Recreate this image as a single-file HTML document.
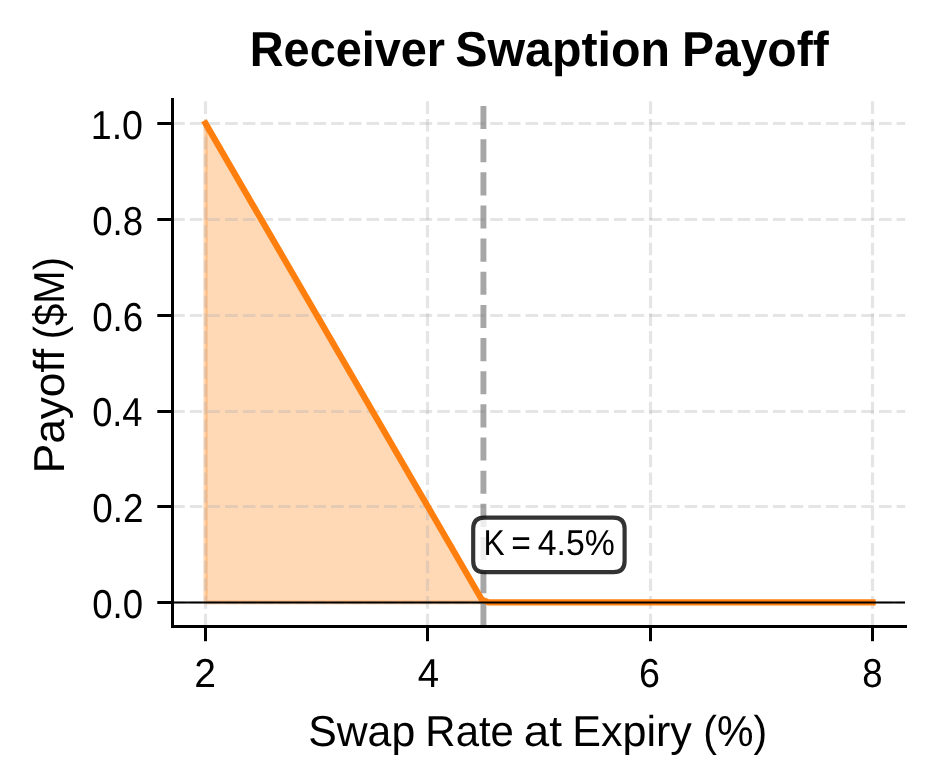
<!DOCTYPE html>
<html><head><meta charset="utf-8"><style>
html,body{margin:0;padding:0;background:#fff;}
svg{display:block;will-change:transform;}
text{font-family:"Liberation Sans", sans-serif;text-rendering:geometricPrecision;}
</style></head><body>
<svg width="934" height="784" viewBox="0 0 934 784">
<rect width="934" height="784" fill="#fff"/>
<path d="M 205.50 602.40 L 205.50 123.40 L 481.74 599.50 L 488.48 602.40 L 872.52 602.40 Z" fill="#ff7f0e" fill-opacity="0.3" stroke="#ff7f0e" stroke-opacity="0.3" stroke-width="4.17" stroke-linejoin="round"/>
<g stroke="#b0b0b0" stroke-opacity="0.33" stroke-width="3.2" stroke-dasharray="12.6 5.07"><line x1="205.50" y1="626.35" x2="205.50" y2="99.45"/><line x1="427.50" y1="626.35" x2="427.50" y2="99.45"/><line x1="650.50" y1="626.35" x2="650.50" y2="99.45"/><line x1="872.50" y1="626.35" x2="872.50" y2="99.45"/><line x1="172.15" y1="602.50" x2="905.2" y2="602.50"/><line x1="172.15" y1="506.50" x2="905.2" y2="506.50"/><line x1="172.15" y1="411.50" x2="905.2" y2="411.50"/><line x1="172.15" y1="315.50" x2="905.2" y2="315.50"/><line x1="172.15" y1="219.50" x2="905.2" y2="219.50"/><line x1="172.15" y1="123.50" x2="905.2" y2="123.50"/></g>
<line x1="483.43" y1="626.35" x2="483.43" y2="99.45" stroke="#808080" stroke-opacity="0.7" stroke-width="5.9" stroke-dasharray="23.1 10.05"/>
<path d="M 205.50 123.40 L 481.74 599.50 L 488.48 602.40 L 872.52 602.40" fill="none" stroke="#ff7f0e" stroke-width="6.25" stroke-linejoin="round" stroke-linecap="square"/>
<line x1="172.15" y1="602.40" x2="905" y2="602.40" stroke="#000" stroke-width="2.0"/>
<g fill="#000"><rect x="171" y="98" width="3" height="530"/><rect x="171" y="625" width="736" height="3"/><rect x="204.0" y="626" width="3" height="15.2"/><rect x="426.0" y="626" width="3" height="15.2"/><rect x="649.0" y="626" width="3" height="15.2"/><rect x="871.0" y="626" width="3" height="15.2"/><rect x="157.3" y="601.0" width="15" height="3"/><rect x="157.3" y="505.0" width="15" height="3"/><rect x="157.3" y="410.0" width="15" height="3"/><rect x="157.3" y="314.0" width="15" height="3"/><rect x="157.3" y="218.0" width="15" height="3"/><rect x="157.3" y="122.0" width="15" height="3"/></g>
<g fill="#000"><text transform="translate(249.75,65.80) scale(0.9542,1)" font-size="49.1" font-weight="bold">Receiver</text><text transform="translate(455.32,65.80) scale(0.9839,1)" font-size="49.1" font-weight="bold">Swaption</text><text transform="translate(681.92,65.80) scale(0.9782,1)" font-size="49.1" font-weight="bold">Payoff</text><text transform="translate(308.22,745.90) scale(0.9876,1)" font-size="43.3">Swap</text><text transform="translate(425.36,745.90) scale(0.9680,1)" font-size="43.3">Rate</text><text transform="translate(523.75,745.90) scale(1.0559,1)" font-size="43.3">at</text><text transform="translate(572.32,745.90) scale(0.9940,1)" font-size="43.3">Expiry</text><text transform="translate(703.30,745.90) scale(0.9468,1)" font-size="43.3">(%)</text><text transform="translate(64.00,473.27) rotate(-90) scale(1.0203,1)" font-size="43.3">Payoff</text><text transform="translate(64.00,339.35) rotate(-90) scale(0.9257,1)" font-size="43.3">($M)</text><text transform="translate(92.14,617.90) scale(0.9057,1)" font-size="40.4">0.0</text><text transform="translate(92.13,522.10) scale(0.9143,1)" font-size="40.4">0.2</text><text transform="translate(92.15,426.30) scale(0.8972,1)" font-size="40.4">0.4</text><text transform="translate(92.14,330.50) scale(0.9100,1)" font-size="40.4">0.6</text><text transform="translate(92.14,234.70) scale(0.9057,1)" font-size="40.4">0.8</text><text transform="translate(90.70,138.90) scale(0.9320,1)" font-size="40.4">1.0</text><text transform="translate(194.36,686.70) scale(0.9676,1)" font-size="40.4">2</text><text transform="translate(417.65,686.70) scale(0.9481,1)" font-size="40.4">4</text><text transform="translate(639.03,686.70) scale(0.9333,1)" font-size="40.4">6</text><text transform="translate(862.22,686.70) scale(0.9053,1)" font-size="40.4">8</text></g>
<path d="M 484.45 517.6 L 613.35 517.6 Q 624.6 517.6 624.6 528.85 L 624.6 560.95 Q 624.6 572.2 613.35 572.2 L 484.45 572.2 Q 473.2 572.2 473.2 560.95 L 473.2 528.85 Q 473.2 517.6 484.45 517.6 Z" fill="#fff" fill-opacity="0.8" stroke="#000" stroke-opacity="0.8" stroke-width="4.17"/>
<g fill="#000"><text transform="translate(483.39,554.80) scale(0.8815,1)" font-size="36">K</text><text transform="translate(511.37,554.80) scale(0.9314,1)" font-size="36">=</text><text transform="translate(537.70,554.80) scale(0.9388,1)" font-size="36">4.5%</text></g>
</svg>
</body></html>
